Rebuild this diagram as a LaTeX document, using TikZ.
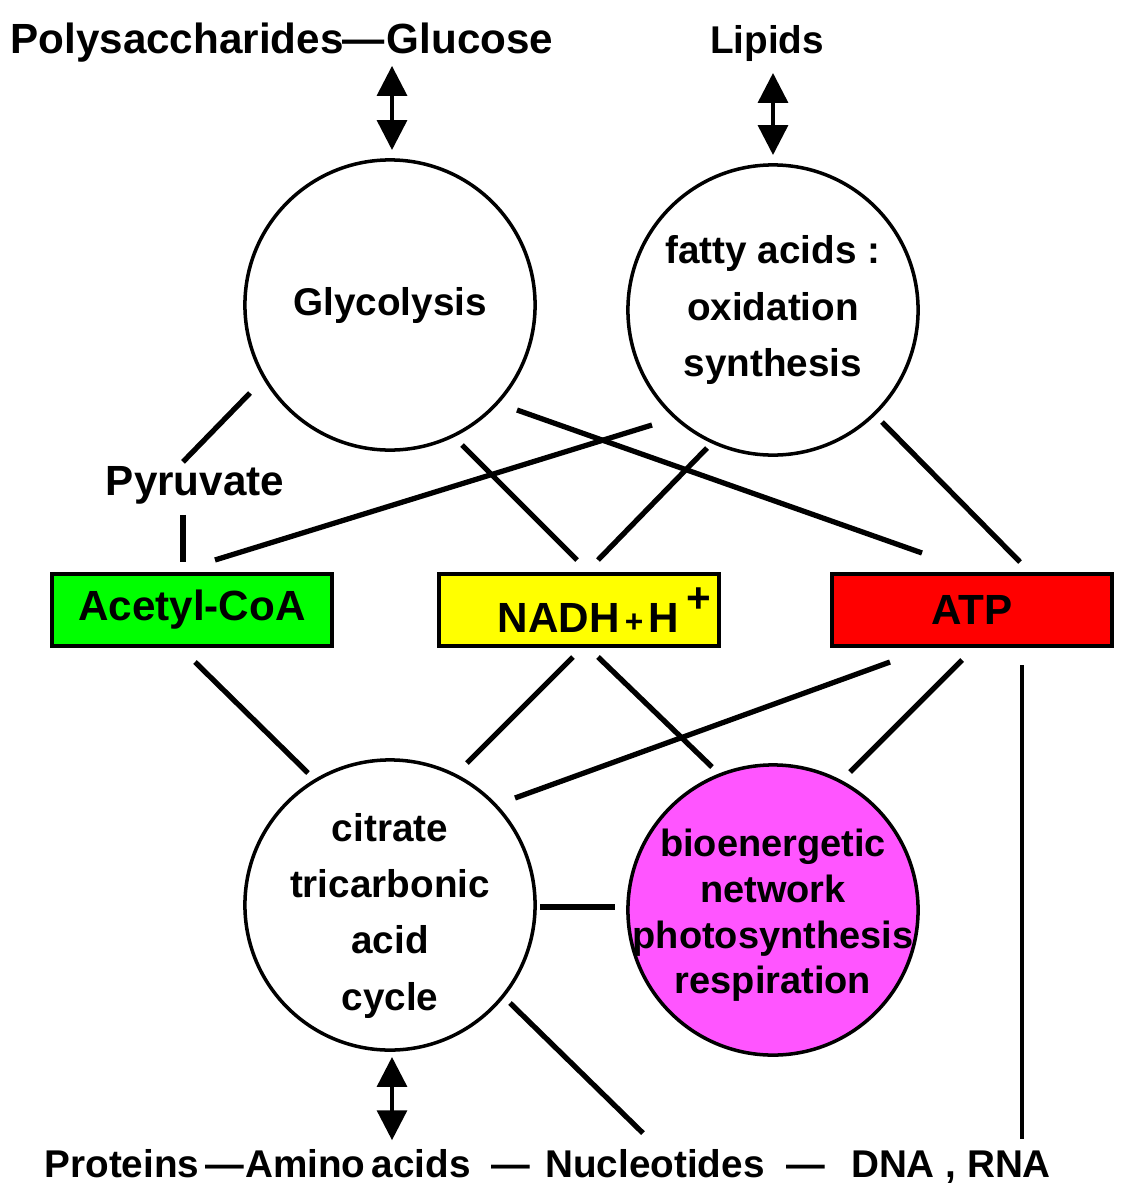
\documentclass[tikz,border=0pt]{standalone}
\usepackage{fontspec}
\setmainfont{Liberation Sans}
\usetikzlibrary{arrows.meta,calc}
\definecolor{accgreen}{HTML}{00FF00}
\definecolor{nadhyellow}{HTML}{FFFF00}
\definecolor{atpred}{HTML}{FF0000}
\definecolor{biomag}{HTML}{FF55FF}
\tikzset{
  lbl/.style={inner sep=0pt, anchor=base, font=\fontsize{12}{14}\selectfont\bfseries},
  blbl/.style={inner sep=0pt, anchor=base, font=\fontsize{11}{13}\selectfont\bfseries},
  circ/.style={circle, draw, line width=1pt, minimum size=2.9cm, inner sep=-6mm, align=center,
               font=\fontsize{11}{16}\selectfont\bfseries},
  box/.style={rectangle, draw, line width=1.2pt, minimum width=2.8cm, minimum height=0.72cm,
              inner sep=0pt, font=\fontsize{12}{14}\selectfont\bfseries},
  conn/.style={line width=1.5pt},
  thinconn/.style={line width=1pt},
  dbl/.style={line width=1pt, {Triangle[length=8.5pt,width=8.5pt]}-{Triangle[length=8.5pt,width=8.5pt]}}
}
\begin{document}
\begin{tikzpicture}[x=0.01cm,y=-0.01cm]
\useasboundingbox (0,0) rectangle (1135,1200);
% top labels
\node[lbl] (poly) at (177,53) {Polysaccharides};
\node[lbl] (dashA) at (364,53) {—};
\node[lbl] (glu) at (470,53) {Glucose};
\node[lbl, font=\fontsize{11}{13}\selectfont\bfseries] (lip) at (767,53) {Lipids};
% circles
\node[circ] (glyc) at (390,305) {Glycolysis};
\node[circ] (fat) at (773,310) {fatty acids :\\ oxidation\\ synthesis};
\node[circ] (cit) at (390,905) {\fontsize{11}{16.6}\selectfont\rule{0pt}{14pt}citrate\\ tricarbonic\\ acid\\ cycle};
\node[circ, fill=biomag, font=\fontsize{10.8}{13}\selectfont\bfseries] (bio) at (773,910) {\rule{0pt}{11pt}bioenergetic\\ network\\ photosynthesis\\ respiration};
% pyruvate
\node[lbl] (pyr) at (195,495) {Pyruvate};
% boxes
\node[box, fill=accgreen] (acc) at (192,610) {Acetyl-CoA};
\node[box, fill=nadhyellow] (nadh) at (579,610) {\hspace*{1.2em}NADH{\small\,+\,}H\,\raisebox{0.9ex}{+}};
\node[box, fill=atpred] (atp) at (972,610) {ATP};
% bottom labels
\node[blbl] (prot) at (122,1177) {Proteins};
\node[blbl] (dashB) at (225,1177) {—};
\node[blbl] (amino) at (358,1177) {Amino\,acids};
\node[blbl] (dashC) at (511,1177) {—};
\node[blbl] (nucl) at (655,1177) {Nucleotides};
\node[blbl] (dashD) at (806,1177) {—};
\node[blbl] (dna) at (951,1177) {DNA , RNA};
% double arrows
\draw[dbl] ($(glu)+(-78,28)$) -- ($(glyc)+(2,-155)$);
\draw[dbl] ($(lip)+(6,30)$) -- ($(fat)+(0,-155)$);
\draw[dbl] ($(cit)+(2,152)$) -- ($(amino)+(34,-23)$);
% upper connectors
\draw[conn] ($(glyc)+(-140,88)$) -- ($(pyr)+(-12,-23)$);
\draw[conn] ($(pyr)+(-12,30)$) -- ($(acc)+(-9,-48)$);
\draw[conn] ($(glyc)+(72,140)$) -- ($(nadh)+(-2,-50)$);
\draw[conn] ($(glyc)+(127,105)$) -- ($(atp)+(-50,-57)$);
\draw[conn] ($(fat)+(-121,115)$) -- ($(acc)+(23,-50)$);
\draw[conn] ($(fat)+(-66,138)$) -- ($(nadh)+(19,-50)$);
\draw[conn] ($(fat)+(109,112)$) -- ($(atp)+(48,-48)$);
% lower connectors
\draw[conn] ($(acc)+(3,52)$) -- ($(cit)+(-82,-132)$);
\draw[conn] ($(nadh)+(-6,47)$) -- ($(cit)+(77,-142)$);
\draw[conn] ($(nadh)+(19,47)$) -- ($(bio)+(-61,-143)$);
\draw[conn] ($(atp)+(-82,52)$) -- ($(cit)+(125,-107)$);
\draw[conn] ($(atp)+(-10,50)$) -- ($(bio)+(77,-138)$);
\draw[thinconn] ($(atp)+(50,55)$) -- ($(dna)+(71,-28)$);
\draw[conn] ($(cit)+(150,2)$) -- ($(bio)+(-158,-3)$);
\draw[conn] ($(cit)+(120,98)$) -- ($(nucl)+(-12,-30)$);
\end{tikzpicture}
\end{document}
